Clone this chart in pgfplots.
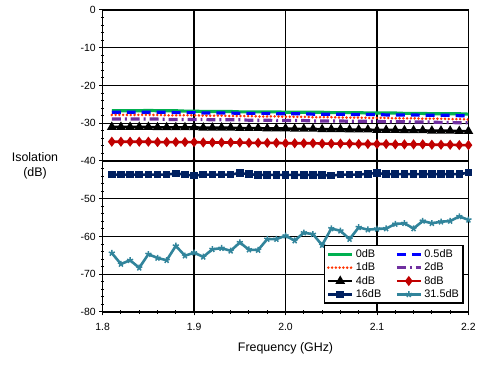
\documentclass[border=0pt]{standalone}
\usepackage{pgfplots}
\pgfplotsset{compat=1.18}
\usepackage{pgfplotstable}
\usepackage{fontspec}
\setmainfont{Liberation Sans}
\definecolor{cgreen}{HTML}{00B050}
\definecolor{cblue}{HTML}{0000FF}
\definecolor{corange}{HTML}{FF3300}
\definecolor{cpurple}{HTML}{7030A0}
\definecolor{cred}{HTML}{C00000}
\definecolor{cnavy}{HTML}{002060}
\definecolor{cteal}{HTML}{31849B}

\pgfplotstableread{
f a b c d e g h k
1.81 -26.7 -27.1 -27.8 -28.9 -31.0 -34.9 -43.6 -64.4
1.82 -26.7 -27.1 -27.8 -28.9 -31.0 -34.9 -43.6 -67.3
1.83 -26.7 -27.1 -27.8 -28.9 -31.0 -34.9 -43.6 -66.3
1.84 -26.7 -27.1 -27.8 -28.9 -31.0 -34.9 -43.6 -68.3
1.85 -26.6 -27.1 -27.8 -28.9 -31.0 -34.9 -43.6 -64.7
1.86 -26.7 -27.1 -27.8 -28.9 -31.1 -35.0 -43.6 -65.7
1.87 -26.7 -27.1 -27.9 -29.0 -31.1 -35.0 -43.6 -66.3
1.88 -26.7 -27.2 -27.9 -29.0 -31.1 -35.0 -43.3 -62.5
1.89 -26.8 -27.2 -27.9 -29.0 -31.1 -35.0 -43.6 -65.1
1.90 -26.8 -27.2 -27.9 -29.0 -31.1 -35.0 -43.9 -64.3
1.91 -26.9 -27.3 -28.0 -29.0 -31.2 -35.1 -43.6 -65.4
1.92 -26.9 -27.3 -28.0 -29.1 -31.2 -35.1 -43.6 -63.4
1.93 -26.9 -27.3 -28.0 -29.1 -31.2 -35.1 -43.6 -63.1
1.94 -26.9 -27.3 -28.1 -29.1 -31.2 -35.1 -43.6 -63.8
1.95 -27.0 -27.4 -28.1 -29.1 -31.3 -35.1 -43.2 -61.6
1.96 -27.0 -27.4 -28.1 -29.2 -31.3 -35.2 -43.5 -63.5
1.97 -27.0 -27.4 -28.2 -29.2 -31.3 -35.2 -43.7 -63.6
1.98 -27.0 -27.4 -28.2 -29.2 -31.4 -35.2 -43.7 -60.7
1.99 -27.0 -27.5 -28.2 -29.3 -31.4 -35.2 -43.7 -60.7
2.00 -27.1 -27.5 -28.3 -29.3 -31.4 -35.3 -43.7 -59.8
2.01 -27.1 -27.5 -28.3 -29.3 -31.5 -35.3 -43.7 -61.1
2.02 -27.1 -27.5 -28.3 -29.3 -31.5 -35.3 -43.7 -59.0
2.03 -27.1 -27.6 -28.4 -29.4 -31.5 -35.3 -43.7 -59.4
2.04 -27.1 -27.6 -28.4 -29.4 -31.6 -35.4 -43.7 -62.3
2.05 -27.2 -27.6 -28.4 -29.4 -31.6 -35.4 -43.9 -57.9
2.06 -27.2 -27.6 -28.5 -29.4 -31.6 -35.4 -43.6 -58.5
2.07 -27.2 -27.7 -28.5 -29.5 -31.7 -35.4 -43.6 -60.7
2.08 -27.2 -27.7 -28.5 -29.5 -31.7 -35.5 -43.6 -57.6
2.09 -27.3 -27.7 -28.6 -29.5 -31.7 -35.5 -43.4 -58.2
2.10 -27.3 -27.7 -28.6 -29.5 -31.8 -35.5 -43.2 -58.0
2.11 -27.3 -27.8 -28.6 -29.6 -31.8 -35.5 -43.5 -57.9
2.12 -27.3 -27.8 -28.7 -29.6 -31.8 -35.6 -43.5 -56.7
2.13 -27.4 -27.8 -28.7 -29.6 -31.9 -35.6 -43.5 -56.5
2.14 -27.4 -27.8 -28.7 -29.7 -31.9 -35.6 -43.5 -57.9
2.15 -27.4 -27.9 -28.8 -29.7 -31.9 -35.6 -43.5 -55.9
2.16 -27.5 -27.9 -28.8 -29.7 -32.0 -35.7 -43.5 -56.5
2.17 -27.5 -27.9 -28.8 -29.8 -32.0 -35.7 -43.5 -56.1
2.18 -27.5 -27.9 -28.9 -29.8 -32.0 -35.7 -43.5 -55.9
2.19 -27.5 -28.0 -28.9 -29.9 -32.1 -35.8 -43.5 -54.7
2.20 -27.6 -28.0 -29.0 -29.9 -32.1 -35.8 -43.1 -55.6
}\datatable

\begin{document}
\begin{tikzpicture}
\begin{axis}[
  scale only axis,
  width=367bp, height=303bp,
  xmin=1.8, xmax=2.2, ymin=-80, ymax=0,
  xtick={1.8,1.9,2.0,2.1,2.2},
  ytick={-80,-70,...,0},
  minor x tick num=4, minor y tick num=4,
  xtick pos=bottom, ytick pos=left,
  major tick length=7bp, minor tick length=3.5bp,
  tick align=center,
  minor tick style={/pgfplots/tick align=inside},
  every tick/.style={black, line width=1pt},
  xticklabel style={/pgf/number format/fixed, /pgf/number format/fixed zerofill, /pgf/number format/precision=1, font=\fontsize{10.5}{12}\selectfont, yshift=-4bp},
  yticklabel style={font=\fontsize{10.5}{12}\selectfont},
  /pgf/number format/assume math mode=true,
  grid=major,
  major grid style={black, line width=1.4bp},
  axis line style={black, line width=1.5bp},
  xlabel={Frequency (GHz)},
  xlabel style={font=\fontsize{12.5}{14}\selectfont, at={(rel axis cs:0.5,0)}, anchor=center, yshift=-36bp},
  ylabel={Isolation\\(dB)},
  ylabel style={font=\fontsize{12.5}{15}\selectfont, align=center, rotate=-90, at={(rel axis cs:-0.185,0.485)}, anchor=center},
  legend columns=2,
  legend cell align=left,
  legend style={at={(rel axis cs:0.987,0.027)}, anchor=south east, draw=black, line width=1.5bp, fill=white, font=\fontsize{11}{12}\selectfont, inner sep=2bp, row sep=0bp, /tikz/every even column/.append style={column sep=12bp}},
  legend image code/.code={\draw[mark repeat=2, mark phase=2, #1] plot coordinates {(0bp,0bp) (12bp,0bp) (24bp,0bp)};},
]
\addplot[cgreen, line width=3.2bp, no marks] table[x=f, y=a] {\datatable};
\addlegendentry{0dB}
\addplot[cblue, line width=3.2bp, no marks, dash pattern=on 9bp off 6bp] table[x=f, y=b] {\datatable};
\addlegendentry{0.5dB}
\addplot[corange, line width=2.8bp, no marks, line cap=round, dash pattern=on 0bp off 3.8bp] table[x=f, y=c] {\datatable};
\addlegendentry{1dB}
\addplot[cpurple, line width=3.2bp, no marks, dash pattern=on 9bp off 4bp on 2bp off 4bp] table[x=f, y=d] {\datatable};
\addlegendentry{2dB}
\addplot[black, line width=2.6bp, mark=triangle*, mark size=3bp, mark options={solid}] table[x=f, y=e] {\datatable};
\addlegendentry{4dB}
\addplot[cred, line width=2.6bp, mark=diamond*, mark size=3bp, mark options={solid}] table[x=f, y=g] {\datatable};
\addlegendentry{8dB}
\addplot[cnavy, line width=2.6bp, mark=square*, mark size=2.5bp, mark options={solid}] table[x=f, y=h] {\datatable};
\addlegendentry{16dB}
\addplot[cteal, line width=2.6bp, mark=star, mark size=3.2bp, mark options={solid, line width=1.5bp}] table[x=f, y=k] {\datatable};
\addlegendentry{31.5dB}
\end{axis}
\path[use as bounding box] (-103bp,-55bp) rectangle (376bp,313bp);
\end{tikzpicture}
\end{document}
